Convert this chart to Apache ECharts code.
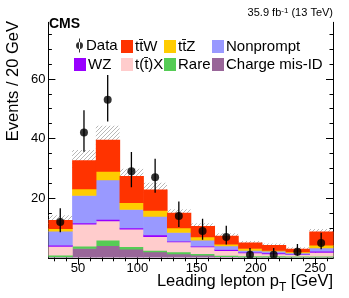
<!DOCTYPE html>
<html><head><meta charset="utf-8">
<script src="https://cdn.jsdelivr.net/npm/echarts@6/dist/echarts.min.js"></script>
<style>html,body{margin:0;padding:0;background:#fff}#c{width:349px;height:298px}</style>
</head><body><div id="c"></div>
<script>
// ---- data ----
const binEdges = [25,45,65,85,105,125,145,165,185,205,225,245,265];
const chargeMisID = [0.4,3.2,4.2,3.0,2.1,1.4,1.0,0.5,0.3,0.3,0.3,0.3];
const rare        = [0.55,0.8,1.8,0.8,0.5,0.65,0.5,0.4,0.4,0.4,0.3,0.3];
const ttX         = [2.95,7.4,6.5,5.9,4.6,3.35,2.2,1.6,1.0,0.7,0.5,1.3];
const wz          = [0.4,0.4,0.5,0.4,0.6,0.3,0.3,0.4,0.3,0.3,0.25,0.4];
const nonprompt   = [4.7,9.2,13.2,6.2,6.2,2.9,2.0,1.2,0.6,0.6,0.35,1.1];
const ttZ         = [0.9,2.2,2.9,2.3,2.0,1.5,1.1,0.6,0.6,0.3,0.35,0.9];
const ttW         = [2.8,9.5,10.5,8.8,6.9,5.0,3.6,2.7,1.9,1.7,0.95,4.5];
const totalUnc    = [1.6,3.5,4.7,2.5,2.3,1.2,0.9,0.8,0.5,0.5,0.5,0.9];
const dataCounts  = [12,42,53,29,27,14,9,7,1,1,2,5];
const dataErrLow  = [3.42,6.45,7.25,5.37,5.17,3.70,2.94,2.58,0.83,0.83,1.29,2.16];
const dataErrHigh = [4.61,7.53,8.36,6.45,6.26,4.90,4.11,3.77,2.30,2.30,2.64,3.38];
const xTickValues = [50,100,150,200,250];
const xMinorTicks = [30,40,60,70,80,90,110,120,130,140,160,170,180,190,210,220,230,240,260];
const yTickValues = [20,40,60];
const yMinorTicks = [5,10,15,25,30,35,45,50,55,65,70,75];
const xRange = [25,265];
const yRange = [0,79];

// ---- styles ----
const FONT = 'Liberation Sans, Arial, Helvetica, sans-serif';
const componentNames = ['Charge mis-ID','Rare','t(t\u0304)X','WZ','Nonprompt','tt\u0304Z','tt\u0304W'];
const componentValues = [chargeMisID, rare, ttX, wz, nonprompt, ttZ, ttW];
const componentColors = ['#996699','#55cc55','#ffcccc','#9900ff','#9999ff','#ffcc00','#ff3300'];

// hatch pattern
const pc = document.createElement('canvas'); pc.width = 4; pc.height = 4;
const g = pc.getContext('2d'); g.strokeStyle = '#a0a0a0'; g.lineWidth = 0.75;
g.beginPath(); g.moveTo(0,4); g.lineTo(4,0); g.moveTo(-1,1); g.lineTo(1,-1); g.moveTo(3,5); g.lineTo(5,3); g.stroke();

// cumulative stack
const nb = dataCounts.length;
const bottoms = [];
let cum = new Array(nb).fill(0);
componentValues.forEach((vals, k) => {
  bottoms.push(cum.slice());
  cum = cum.map((c, i) => c + vals[i]);
});
const totals = cum;

function rectRender(params, api) {
  const x0 = api.value(0), x1 = api.value(1), y0 = api.value(2), y1 = api.value(3);
  const pA = api.coord([x0, y1]);
  const pB = api.coord([x1, y0]);
  const extraB = y0 > 0 ? 0.6 : 0;
  return {
    type: 'rect',
    shape: { x: pA[0], y: pA[1], width: pB[0] - pA[0] + 0.6, height: pB[1] - pA[1] + extraB },
    style: { fill: api.visual('color') }
  };
}

const series = [];
// uncertainty band (behind the stack)
series.push({
  type: 'custom', name: 'Unc', xAxisIndex: 0, yAxisIndex: 0, clip: true,
  data: totals.map((t, i) => [binEdges[i], binEdges[i+1], t - totalUnc[i], t + totalUnc[i]]),
  renderItem: function (params, api) {
    const pA = api.coord([api.value(0), api.value(3)]);
    const pB = api.coord([api.value(1), api.value(2)]);
    return { type: 'rect', shape: { x: pA[0], y: pA[1], width: pB[0]-pA[0], height: pB[1]-pA[1] },
      style: { fill: { image: pc, repeat: 'repeat' } } };
  },
  silent: true
});
componentValues.forEach((vals, k) => {
  series.push({
    type: 'custom', name: componentNames[k], xAxisIndex: 0, yAxisIndex: 0, clip: true,
    itemStyle: { color: componentColors[k] },
    data: vals.map((v, i) => [binEdges[i], binEdges[i+1], bottoms[k][i], bottoms[k][i] + v]),
    renderItem: rectRender
  });
});
// data error bars
series.push({
  type: 'custom', name: 'DataErr', xAxisIndex: 0, yAxisIndex: 0, clip: true,
  data: dataCounts.map((d, i) => [(binEdges[i]+binEdges[i+1])/2, d - dataErrLow[i], d + dataErrHigh[i]]),
  renderItem: function (params, api) {
    const p0 = api.coord([api.value(0), api.value(1)]);
    const p1 = api.coord([api.value(0), api.value(2)]);
    return { type: 'line', shape: { x1: p0[0], y1: p0[1], x2: p1[0], y2: p1[1] },
      style: { stroke: '#000', lineWidth: 1.3 } };
  }
});
series.push({
  type: 'scatter', name: 'Data', xAxisIndex: 0, yAxisIndex: 0,
  symbol: 'circle', symbolSize: 8, itemStyle: { color: '#000' },
  data: dataCounts.map((d, i) => [(binEdges[i]+binEdges[i+1])/2, d]),
  z: 5
});

function legendItem(name, left, top, icon) {
  return {
    data: [name], left: left, top: top, padding: 0, itemGap: 0,
    itemWidth: icon ? 9 : 12, itemHeight: icon ? 14 : 13,
    icon: icon || 'rect', selectedMode: false,
    textStyle: { fontSize: 15, color: '#000', fontFamily: FONT, padding: [0,0,0,-3] }
  };
}
const dataIcon = 'path://M4,0h1v14h-1z M1,7a3.5,3.5 0 1,0 7,0a3.5,3.5 0 1,0 -7,0z';

const grid = { left: 48.4, right: 16, top: 22.3, bottom: 40.2 };
const axisLineStyle = { color: '#000', width: 1 };

const option = {
  animation: false,
  textStyle: { fontFamily: FONT },
  grid: [Object.assign({}, grid), Object.assign({}, grid)],
  legend: [
    legendItem('Data', 76, 38, dataIcon),
    legendItem('tt\u0304W', 121, 39),
    legendItem('tt\u0304Z', 164, 39),
    legendItem('Nonprompt', 212, 39),
    legendItem('WZ', 74, 57),
    legendItem('t(t\u0304)X', 121, 57),
    legendItem('Rare', 164, 57),
    legendItem('Charge mis-ID', 212, 57)
  ],
  xAxis: [
    { type: 'value', gridIndex: 0, position: 'bottom', min: xRange[0], max: xRange[1],
      axisLine: { show: true, lineStyle: axisLineStyle },
      axisTick: { inside: true, length: 7, customValues: xTickValues, lineStyle: axisLineStyle },
      axisLabel: { customValues: xTickValues, fontSize: 13, color: '#000', margin: 4, fontFamily: FONT },
      splitLine: { show: false } },
    { type: 'value', gridIndex: 0, position: 'top', min: xRange[0], max: xRange[1],
      axisLine: { show: true, lineStyle: axisLineStyle },
      axisTick: { inside: true, length: 7, customValues: xTickValues, lineStyle: axisLineStyle },
      axisLabel: { show: false }, splitLine: { show: false } },
    { type: 'value', gridIndex: 1, position: 'bottom', min: xRange[0], max: xRange[1],
      axisLine: { show: false },
      axisTick: { inside: true, length: 3.5, customValues: xMinorTicks, lineStyle: axisLineStyle },
      axisLabel: { show: false }, splitLine: { show: false } },
    { type: 'value', gridIndex: 1, position: 'top', min: xRange[0], max: xRange[1],
      axisLine: { show: false },
      axisTick: { inside: true, length: 3.5, customValues: xMinorTicks, lineStyle: axisLineStyle },
      axisLabel: { show: false }, splitLine: { show: false } }
  ],
  yAxis: [
    { type: 'value', gridIndex: 0, position: 'left', min: yRange[0], max: yRange[1],
      axisLine: { show: true, lineStyle: axisLineStyle },
      axisTick: { inside: true, length: 7, customValues: yTickValues, lineStyle: axisLineStyle },
      axisLabel: { customValues: yTickValues, fontSize: 13, color: '#000', margin: 3, fontFamily: FONT },
      splitLine: { show: false } },
    { type: 'value', gridIndex: 0, position: 'right', min: yRange[0], max: yRange[1],
      axisLine: { show: true, lineStyle: axisLineStyle },
      axisTick: { inside: true, length: 7, customValues: yTickValues, lineStyle: axisLineStyle },
      axisLabel: { show: false }, splitLine: { show: false } },
    { type: 'value', gridIndex: 1, position: 'left', min: yRange[0], max: yRange[1],
      axisLine: { show: false },
      axisTick: { inside: true, length: 3.5, customValues: yMinorTicks, lineStyle: axisLineStyle },
      axisLabel: { show: false }, splitLine: { show: false } },
    { type: 'value', gridIndex: 1, position: 'right', min: yRange[0], max: yRange[1],
      axisLine: { show: false },
      axisTick: { inside: true, length: 3.5, customValues: yMinorTicks, lineStyle: axisLineStyle },
      axisLabel: { show: false }, splitLine: { show: false } }
  ],
  graphic: [
    { type: 'text', x: 49, y: 17, z: 10,
      style: { text: 'CMS', fontSize: 14, fontWeight: 'bold', fontFamily: FONT, fill: '#000',
        align: 'left', verticalAlign: 'alphabetic' } },
    { type: 'text', x: 333, y: 13.3, z: 10,
      style: { text: '{a|35.9 fb}{s|-1}{a| (13 TeV)}', fill: '#000', align: 'right', verticalAlign: 'middle',
        rich: { a: { fontSize: 11, lineHeight: 14, fontFamily: FONT },
                s: { fontSize: 8, lineHeight: 8, verticalAlign: 'top', fontFamily: FONT } } } },
    { type: 'text', x: 333, y: 281, z: 10,
      style: { text: '{a|Leading lepton p}{s|T}{a| [GeV]}', fill: '#000', align: 'right', verticalAlign: 'middle',
        rich: { a: { fontSize: 16.5, lineHeight: 26, fontFamily: FONT },
                s: { fontSize: 12, lineHeight: 12, verticalAlign: 'bottom', fontFamily: FONT } } } },
    { type: 'text', x: 13.5, y: 21, rotation: Math.PI / 2, z: 10,
      style: { text: 'Events / 20 GeV', fontSize: 16.5, fontFamily: FONT, fill: '#000',
        align: 'right', verticalAlign: 'middle' } }
  ],
  series: series
};
const chart = echarts.init(document.getElementById('c'), null, { renderer: 'canvas' });
chart.setOption(option);
</script></body></html>
